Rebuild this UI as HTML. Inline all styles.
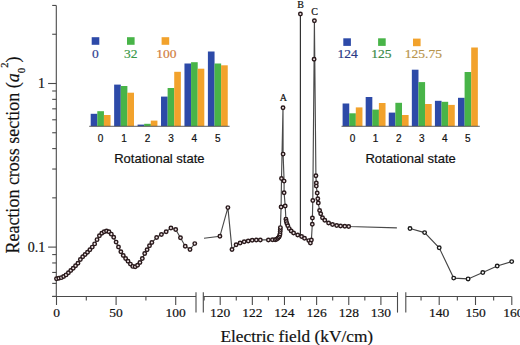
<!DOCTYPE html>
<html><head><meta charset="utf-8"><style>
html,body{margin:0;padding:0;background:#fff;}
svg{display:block;}
.serif{font-family:"Liberation Serif",serif;fill:#111;stroke:#111;stroke-width:0.2px;}
.sans{font-family:"Liberation Sans",sans-serif;fill:#111;stroke:#111;stroke-width:0.2px;}
</style></head><body>
<svg width="520" height="345" viewBox="0 0 520 345">
<rect width="520" height="345" fill="#fff"/>
<line x1="56.3" y1="5.4" x2="56.3" y2="296.5" stroke="#4a4a4a" stroke-width="1.1"/>
<line x1="52.20" y1="296.35" x2="56.3" y2="296.35" stroke="#4a4a4a" stroke-width="1.1"/>
<line x1="52.20" y1="283.39" x2="56.3" y2="283.39" stroke="#4a4a4a" stroke-width="1.1"/>
<line x1="52.20" y1="272.44" x2="56.3" y2="272.44" stroke="#4a4a4a" stroke-width="1.1"/>
<line x1="52.20" y1="262.95" x2="56.3" y2="262.95" stroke="#4a4a4a" stroke-width="1.1"/>
<line x1="52.20" y1="254.59" x2="56.3" y2="254.59" stroke="#4a4a4a" stroke-width="1.1"/>
<line x1="48.10" y1="247.10" x2="56.3" y2="247.10" stroke="#4a4a4a" stroke-width="1.1"/>
<line x1="52.20" y1="197.85" x2="56.3" y2="197.85" stroke="#4a4a4a" stroke-width="1.1"/>
<line x1="52.20" y1="169.04" x2="56.3" y2="169.04" stroke="#4a4a4a" stroke-width="1.1"/>
<line x1="52.20" y1="148.60" x2="56.3" y2="148.60" stroke="#4a4a4a" stroke-width="1.1"/>
<line x1="52.20" y1="132.75" x2="56.3" y2="132.75" stroke="#4a4a4a" stroke-width="1.1"/>
<line x1="52.20" y1="119.79" x2="56.3" y2="119.79" stroke="#4a4a4a" stroke-width="1.1"/>
<line x1="52.20" y1="108.84" x2="56.3" y2="108.84" stroke="#4a4a4a" stroke-width="1.1"/>
<line x1="52.20" y1="99.35" x2="56.3" y2="99.35" stroke="#4a4a4a" stroke-width="1.1"/>
<line x1="52.20" y1="90.99" x2="56.3" y2="90.99" stroke="#4a4a4a" stroke-width="1.1"/>
<line x1="48.10" y1="83.50" x2="56.3" y2="83.50" stroke="#4a4a4a" stroke-width="1.1"/>
<line x1="52.20" y1="34.25" x2="56.3" y2="34.25" stroke="#4a4a4a" stroke-width="1.1"/>
<line x1="52.20" y1="5.44" x2="56.3" y2="5.44" stroke="#4a4a4a" stroke-width="1.1"/>
<line x1="52.2" y1="296.5" x2="196.0" y2="296.5" stroke="#4a4a4a" stroke-width="1.1"/>
<line x1="203.3" y1="296.5" x2="397.5" y2="296.5" stroke="#4a4a4a" stroke-width="1.1"/>
<line x1="405.8" y1="296.5" x2="511.6" y2="296.5" stroke="#4a4a4a" stroke-width="1.1"/>
<line x1="196.0" y1="292.2" x2="196.0" y2="312.6" stroke="#4a4a4a" stroke-width="1.1"/>
<line x1="203.3" y1="292.2" x2="203.3" y2="312.6" stroke="#4a4a4a" stroke-width="1.1"/>
<line x1="397.5" y1="292.2" x2="397.5" y2="312.6" stroke="#4a4a4a" stroke-width="1.1"/>
<line x1="405.8" y1="292.2" x2="405.8" y2="312.6" stroke="#4a4a4a" stroke-width="1.1"/>
<line x1="56.50" y1="296.5" x2="56.50" y2="305.00" stroke="#4a4a4a" stroke-width="1.1"/>
<line x1="116.10" y1="296.5" x2="116.10" y2="305.00" stroke="#4a4a4a" stroke-width="1.1"/>
<line x1="175.70" y1="296.5" x2="175.70" y2="305.00" stroke="#4a4a4a" stroke-width="1.1"/>
<line x1="86.30" y1="296.5" x2="86.30" y2="300.60" stroke="#4a4a4a" stroke-width="1.1"/>
<line x1="145.90" y1="296.5" x2="145.90" y2="300.60" stroke="#4a4a4a" stroke-width="1.1"/>
<line x1="220.20" y1="296.5" x2="220.20" y2="305.00" stroke="#4a4a4a" stroke-width="1.1"/>
<line x1="252.34" y1="296.5" x2="252.34" y2="305.00" stroke="#4a4a4a" stroke-width="1.1"/>
<line x1="284.48" y1="296.5" x2="284.48" y2="305.00" stroke="#4a4a4a" stroke-width="1.1"/>
<line x1="316.62" y1="296.5" x2="316.62" y2="305.00" stroke="#4a4a4a" stroke-width="1.1"/>
<line x1="348.76" y1="296.5" x2="348.76" y2="305.00" stroke="#4a4a4a" stroke-width="1.1"/>
<line x1="380.90" y1="296.5" x2="380.90" y2="305.00" stroke="#4a4a4a" stroke-width="1.1"/>
<line x1="204.13" y1="296.5" x2="204.13" y2="300.60" stroke="#4a4a4a" stroke-width="1.1"/>
<line x1="236.27" y1="296.5" x2="236.27" y2="300.60" stroke="#4a4a4a" stroke-width="1.1"/>
<line x1="268.41" y1="296.5" x2="268.41" y2="300.60" stroke="#4a4a4a" stroke-width="1.1"/>
<line x1="300.55" y1="296.5" x2="300.55" y2="300.60" stroke="#4a4a4a" stroke-width="1.1"/>
<line x1="332.69" y1="296.5" x2="332.69" y2="300.60" stroke="#4a4a4a" stroke-width="1.1"/>
<line x1="364.83" y1="296.5" x2="364.83" y2="300.60" stroke="#4a4a4a" stroke-width="1.1"/>
<line x1="439.20" y1="296.5" x2="439.20" y2="305.00" stroke="#4a4a4a" stroke-width="1.1"/>
<line x1="475.50" y1="296.5" x2="475.50" y2="305.00" stroke="#4a4a4a" stroke-width="1.1"/>
<line x1="511.80" y1="296.5" x2="511.80" y2="305.00" stroke="#4a4a4a" stroke-width="1.1"/>
<line x1="421.05" y1="296.5" x2="421.05" y2="300.60" stroke="#4a4a4a" stroke-width="1.1"/>
<line x1="457.35" y1="296.5" x2="457.35" y2="300.60" stroke="#4a4a4a" stroke-width="1.1"/>
<line x1="493.65" y1="296.5" x2="493.65" y2="300.60" stroke="#4a4a4a" stroke-width="1.1"/>
<text x="56.50" y="317.2" class="serif" font-size="13.5" text-anchor="middle">0</text>
<text x="116.10" y="317.2" class="serif" font-size="13.5" text-anchor="middle">50</text>
<text x="175.70" y="317.2" class="serif" font-size="13.5" text-anchor="middle">100</text>
<text x="220.20" y="317.2" class="serif" font-size="13.5" text-anchor="middle">120</text>
<text x="252.34" y="317.2" class="serif" font-size="13.5" text-anchor="middle">122</text>
<text x="284.48" y="317.2" class="serif" font-size="13.5" text-anchor="middle">124</text>
<text x="316.62" y="317.2" class="serif" font-size="13.5" text-anchor="middle">126</text>
<text x="348.76" y="317.2" class="serif" font-size="13.5" text-anchor="middle">128</text>
<text x="380.90" y="317.2" class="serif" font-size="13.5" text-anchor="middle">130</text>
<text x="439.20" y="317.2" class="serif" font-size="13.5" text-anchor="middle">140</text>
<text x="475.50" y="317.2" class="serif" font-size="13.5" text-anchor="middle">150</text>
<text x="513.30" y="317.2" class="serif" font-size="13.5" text-anchor="middle">160</text>
<text x="45.0" y="87.7" class="serif" font-size="14" text-anchor="end">1</text>
<text x="45.3" y="251.5" class="serif" font-size="14" text-anchor="end">0.1</text>
<text x="296.8" y="341.7" class="serif" font-size="17.3" text-anchor="middle">Electric field (kV/cm)</text>
<text transform="translate(19.2,253.6) rotate(-90)" class="serif" font-size="18">Reaction cross section (<tspan font-style="italic">a</tspan><tspan font-size="11" dy="5.8">0</tspan><tspan font-size="10.5" dy="-17.3">2</tspan><tspan dy="11.5">)</tspan></text>
<rect x="90.70" y="113.80" width="6.65" height="12.50" fill="#2d4aa8"/>
<rect x="97.30" y="111.20" width="6.65" height="15.10" fill="#48b448"/>
<rect x="103.90" y="115.00" width="6.65" height="11.30" fill="#f2a22c"/>
<rect x="114.14" y="84.60" width="6.65" height="41.70" fill="#2d4aa8"/>
<rect x="120.74" y="86.00" width="6.65" height="40.30" fill="#48b448"/>
<rect x="127.34" y="92.70" width="6.65" height="33.60" fill="#f2a22c"/>
<rect x="137.58" y="124.60" width="6.65" height="1.70" fill="#2d4aa8"/>
<rect x="144.18" y="123.80" width="6.65" height="2.50" fill="#48b448"/>
<rect x="150.78" y="120.60" width="6.65" height="5.70" fill="#f2a22c"/>
<rect x="161.02" y="96.60" width="6.65" height="29.70" fill="#2d4aa8"/>
<rect x="167.62" y="88.00" width="6.65" height="38.30" fill="#48b448"/>
<rect x="174.22" y="71.80" width="6.65" height="54.50" fill="#f2a22c"/>
<rect x="184.46" y="63.50" width="6.65" height="62.80" fill="#2d4aa8"/>
<rect x="191.06" y="62.20" width="6.65" height="64.10" fill="#48b448"/>
<rect x="197.66" y="68.70" width="6.65" height="57.60" fill="#f2a22c"/>
<rect x="207.90" y="51.50" width="6.65" height="74.80" fill="#2d4aa8"/>
<rect x="214.50" y="63.50" width="6.65" height="62.80" fill="#48b448"/>
<rect x="221.10" y="65.30" width="6.65" height="61.00" fill="#f2a22c"/>
<line x1="89.2" y1="126.3" x2="229.6" y2="126.3" stroke="#505050" stroke-width="0.9"/>
<text x="100.60" y="141.6" class="sans" font-size="10" text-anchor="middle">0</text>
<text x="124.04" y="141.6" class="sans" font-size="10" text-anchor="middle">1</text>
<text x="147.48" y="141.6" class="sans" font-size="10" text-anchor="middle">2</text>
<text x="170.92" y="141.6" class="sans" font-size="10" text-anchor="middle">3</text>
<text x="194.36" y="141.6" class="sans" font-size="10" text-anchor="middle">4</text>
<text x="217.80" y="141.6" class="sans" font-size="10" text-anchor="middle">5</text>
<text x="159.40" y="163" class="sans" font-size="13" text-anchor="middle">Rotational state</text>
<rect x="91.70" y="37.20" width="7.6" height="7.6" fill="#2d4aa8"/>
<rect x="127.00" y="37.20" width="7.6" height="7.6" fill="#48b448"/>
<rect x="161.60" y="37.20" width="7.6" height="7.6" fill="#f2a22c"/>
<text x="95.40" y="58" class="serif" font-size="13.5" text-anchor="middle" style="fill:#2f4092;stroke:#2f4092">0</text>
<text x="130.80" y="58" class="serif" font-size="13.5" text-anchor="middle" style="fill:#3a9848;stroke:#3a9848">32</text>
<text x="166.30" y="58" class="serif" font-size="13.5" text-anchor="middle" style="fill:#d27e40;stroke:#d27e40">100</text>
<rect x="342.60" y="103.50" width="6.65" height="22.80" fill="#2d4aa8"/>
<rect x="349.20" y="113.30" width="6.65" height="13.00" fill="#48b448"/>
<rect x="355.80" y="107.40" width="6.65" height="18.90" fill="#f2a22c"/>
<rect x="365.68" y="97.00" width="6.65" height="29.30" fill="#2d4aa8"/>
<rect x="372.28" y="109.60" width="6.65" height="16.70" fill="#48b448"/>
<rect x="378.88" y="103.00" width="6.65" height="23.30" fill="#f2a22c"/>
<rect x="388.76" y="112.60" width="6.65" height="13.70" fill="#2d4aa8"/>
<rect x="395.36" y="102.80" width="6.65" height="23.50" fill="#48b448"/>
<rect x="401.96" y="115.00" width="6.65" height="11.30" fill="#f2a22c"/>
<rect x="411.84" y="69.70" width="6.65" height="56.60" fill="#2d4aa8"/>
<rect x="418.44" y="82.10" width="6.65" height="44.20" fill="#48b448"/>
<rect x="425.04" y="104.00" width="6.65" height="22.30" fill="#f2a22c"/>
<rect x="434.92" y="100.80" width="6.65" height="25.50" fill="#2d4aa8"/>
<rect x="441.52" y="101.80" width="6.65" height="24.50" fill="#48b448"/>
<rect x="448.12" y="104.90" width="6.65" height="21.40" fill="#f2a22c"/>
<rect x="458.00" y="97.80" width="6.65" height="28.50" fill="#2d4aa8"/>
<rect x="464.60" y="72.00" width="6.65" height="54.30" fill="#48b448"/>
<rect x="471.20" y="47.50" width="6.65" height="78.80" fill="#f2a22c"/>
<line x1="341.5" y1="126.3" x2="479.8" y2="126.3" stroke="#505050" stroke-width="0.9"/>
<text x="352.50" y="141.6" class="sans" font-size="10" text-anchor="middle">0</text>
<text x="375.58" y="141.6" class="sans" font-size="10" text-anchor="middle">1</text>
<text x="398.66" y="141.6" class="sans" font-size="10" text-anchor="middle">2</text>
<text x="421.74" y="141.6" class="sans" font-size="10" text-anchor="middle">3</text>
<text x="444.82" y="141.6" class="sans" font-size="10" text-anchor="middle">4</text>
<text x="467.90" y="141.6" class="sans" font-size="10" text-anchor="middle">5</text>
<text x="410.65" y="163" class="sans" font-size="13" text-anchor="middle">Rotational state</text>
<rect x="343.30" y="38.30" width="7.6" height="7.6" fill="#2d4aa8"/>
<rect x="378.10" y="38.30" width="7.6" height="7.6" fill="#48b448"/>
<rect x="413.00" y="38.60" width="7.6" height="7.6" fill="#f2a22c"/>
<text x="347.50" y="58" class="serif" font-size="13.5" text-anchor="middle" style="fill:#2a3a85;stroke:#2a3a85">124</text>
<text x="381.30" y="58" class="serif" font-size="13.5" text-anchor="middle" style="fill:#3a8a48;stroke:#3a8a48">125</text>
<text x="423.40" y="58" class="serif" font-size="13.5" text-anchor="middle" style="fill:#b8944c;stroke:#b8944c">125.75</text>
<polyline points="56.50,278.67 58.88,278.30 61.27,277.64 63.65,276.53 66.04,274.88 68.42,272.78 70.80,270.50 73.19,268.21 75.57,265.73 77.96,263.23 80.34,259.56 82.72,256.83 85.11,254.41 87.49,252.18 89.88,249.82 92.26,247.10 94.64,243.88 97.03,239.64 99.41,235.76 101.80,233.29 104.18,231.79 106.56,231.09 108.95,231.69 111.33,234.14 113.72,237.33 116.10,242.12 118.48,247.07 120.87,251.70 123.25,255.40 125.64,258.41 128.02,261.34 130.40,264.10 132.79,266.39 135.17,266.74 137.56,265.20 139.94,262.46 142.32,258.43 144.71,253.50 147.09,249.65 149.48,245.80 151.86,242.55 156.63,237.53 161.40,234.54 166.16,231.65 170.93,228.05 175.70,229.45 180.47,237.67 185.24,246.22 190.00,249.49 194.77,243.60" fill="none" stroke="#4a4a4a" stroke-width="1.15"/>
<circle cx="56.50" cy="278.67" r="1.75" fill="#efe4e6" stroke="#2a1a1c" stroke-width="1.45"/>
<circle cx="58.88" cy="278.30" r="1.75" fill="#efe4e6" stroke="#2a1a1c" stroke-width="1.45"/>
<circle cx="61.27" cy="277.64" r="1.75" fill="#efe4e6" stroke="#2a1a1c" stroke-width="1.45"/>
<circle cx="63.65" cy="276.53" r="1.75" fill="#efe4e6" stroke="#2a1a1c" stroke-width="1.45"/>
<circle cx="66.04" cy="274.88" r="1.75" fill="#efe4e6" stroke="#2a1a1c" stroke-width="1.45"/>
<circle cx="68.42" cy="272.78" r="1.75" fill="#efe4e6" stroke="#2a1a1c" stroke-width="1.45"/>
<circle cx="70.80" cy="270.50" r="1.75" fill="#efe4e6" stroke="#2a1a1c" stroke-width="1.45"/>
<circle cx="73.19" cy="268.21" r="1.75" fill="#efe4e6" stroke="#2a1a1c" stroke-width="1.45"/>
<circle cx="75.57" cy="265.73" r="1.75" fill="#efe4e6" stroke="#2a1a1c" stroke-width="1.45"/>
<circle cx="77.96" cy="263.23" r="1.75" fill="#efe4e6" stroke="#2a1a1c" stroke-width="1.45"/>
<circle cx="80.34" cy="259.56" r="1.75" fill="#efe4e6" stroke="#2a1a1c" stroke-width="1.45"/>
<circle cx="82.72" cy="256.83" r="1.75" fill="#efe4e6" stroke="#2a1a1c" stroke-width="1.45"/>
<circle cx="85.11" cy="254.41" r="1.75" fill="#efe4e6" stroke="#2a1a1c" stroke-width="1.45"/>
<circle cx="87.49" cy="252.18" r="1.75" fill="#efe4e6" stroke="#2a1a1c" stroke-width="1.45"/>
<circle cx="89.88" cy="249.82" r="1.75" fill="#efe4e6" stroke="#2a1a1c" stroke-width="1.45"/>
<circle cx="92.26" cy="247.10" r="1.75" fill="#efe4e6" stroke="#2a1a1c" stroke-width="1.45"/>
<circle cx="94.64" cy="243.88" r="1.75" fill="#efe4e6" stroke="#2a1a1c" stroke-width="1.45"/>
<circle cx="97.03" cy="239.64" r="1.75" fill="#efe4e6" stroke="#2a1a1c" stroke-width="1.45"/>
<circle cx="99.41" cy="235.76" r="1.75" fill="#efe4e6" stroke="#2a1a1c" stroke-width="1.45"/>
<circle cx="101.80" cy="233.29" r="1.75" fill="#efe4e6" stroke="#2a1a1c" stroke-width="1.45"/>
<circle cx="104.18" cy="231.79" r="1.75" fill="#efe4e6" stroke="#2a1a1c" stroke-width="1.45"/>
<circle cx="106.56" cy="231.09" r="1.75" fill="#efe4e6" stroke="#2a1a1c" stroke-width="1.45"/>
<circle cx="108.95" cy="231.69" r="1.75" fill="#efe4e6" stroke="#2a1a1c" stroke-width="1.45"/>
<circle cx="111.33" cy="234.14" r="1.75" fill="#efe4e6" stroke="#2a1a1c" stroke-width="1.45"/>
<circle cx="113.72" cy="237.33" r="1.75" fill="#efe4e6" stroke="#2a1a1c" stroke-width="1.45"/>
<circle cx="116.10" cy="242.12" r="1.75" fill="#efe4e6" stroke="#2a1a1c" stroke-width="1.45"/>
<circle cx="118.48" cy="247.07" r="1.75" fill="#efe4e6" stroke="#2a1a1c" stroke-width="1.45"/>
<circle cx="120.87" cy="251.70" r="1.75" fill="#efe4e6" stroke="#2a1a1c" stroke-width="1.45"/>
<circle cx="123.25" cy="255.40" r="1.75" fill="#efe4e6" stroke="#2a1a1c" stroke-width="1.45"/>
<circle cx="125.64" cy="258.41" r="1.75" fill="#efe4e6" stroke="#2a1a1c" stroke-width="1.45"/>
<circle cx="128.02" cy="261.34" r="1.75" fill="#efe4e6" stroke="#2a1a1c" stroke-width="1.45"/>
<circle cx="130.40" cy="264.10" r="1.75" fill="#efe4e6" stroke="#2a1a1c" stroke-width="1.45"/>
<circle cx="132.79" cy="266.39" r="1.75" fill="#efe4e6" stroke="#2a1a1c" stroke-width="1.45"/>
<circle cx="135.17" cy="266.74" r="1.75" fill="#efe4e6" stroke="#2a1a1c" stroke-width="1.45"/>
<circle cx="137.56" cy="265.20" r="1.75" fill="#efe4e6" stroke="#2a1a1c" stroke-width="1.45"/>
<circle cx="139.94" cy="262.46" r="1.75" fill="#efe4e6" stroke="#2a1a1c" stroke-width="1.45"/>
<circle cx="142.32" cy="258.43" r="1.75" fill="#efe4e6" stroke="#2a1a1c" stroke-width="1.45"/>
<circle cx="144.71" cy="253.50" r="1.75" fill="#efe4e6" stroke="#2a1a1c" stroke-width="1.45"/>
<circle cx="147.09" cy="249.65" r="1.75" fill="#efe4e6" stroke="#2a1a1c" stroke-width="1.45"/>
<circle cx="149.48" cy="245.80" r="1.75" fill="#efe4e6" stroke="#2a1a1c" stroke-width="1.45"/>
<circle cx="151.86" cy="242.55" r="1.75" fill="#efe4e6" stroke="#2a1a1c" stroke-width="1.45"/>
<circle cx="156.63" cy="237.53" r="1.75" fill="#efe4e6" stroke="#2a1a1c" stroke-width="1.45"/>
<circle cx="161.40" cy="234.54" r="1.75" fill="#efe4e6" stroke="#2a1a1c" stroke-width="1.45"/>
<circle cx="166.16" cy="231.65" r="1.75" fill="#efe4e6" stroke="#2a1a1c" stroke-width="1.45"/>
<circle cx="170.93" cy="228.05" r="1.75" fill="#efe4e6" stroke="#2a1a1c" stroke-width="1.45"/>
<circle cx="175.70" cy="229.45" r="1.75" fill="#efe4e6" stroke="#2a1a1c" stroke-width="1.45"/>
<circle cx="180.47" cy="237.67" r="1.75" fill="#efe4e6" stroke="#2a1a1c" stroke-width="1.45"/>
<circle cx="185.24" cy="246.22" r="1.75" fill="#efe4e6" stroke="#2a1a1c" stroke-width="1.45"/>
<circle cx="190.00" cy="249.49" r="1.75" fill="#efe4e6" stroke="#2a1a1c" stroke-width="1.45"/>
<circle cx="194.77" cy="243.60" r="1.75" fill="#efe4e6" stroke="#2a1a1c" stroke-width="1.45"/>
<polyline points="204.00,238.20 219.90,236.30 227.90,207.60 232.00,249.50 236.10,244.80 240.10,242.90 244.20,241.70 248.20,240.90 252.20,240.30 256.30,239.90 260.30,239.90 268.40,239.90 272.50,239.70 275.20,239.70 276.60,239.30 277.90,238.30 279.00,237.00 279.70,235.60 280.00,233.90 280.20,231.60 280.30,229.60 280.40,227.60 281.10,207.00 281.50,178.50 283.00,107.80 283.10,154.10 284.10,181.10 284.10,192.70 285.20,205.90 285.90,219.20 286.30,221.40 286.90,223.60 287.80,225.80 289.20,228.60 291.20,231.00 293.60,232.90 297.70,235.00 300.40,235.70 301.60,236.50 304.50,238.30 308.80,240.60 310.40,242.90 311.40,239.90 312.30,224.20 312.40,218.00 312.80,200.40 314.10,59.30 314.40,20.70 315.90,175.70 316.30,183.00 316.30,186.10 317.20,193.00 317.80,198.70 318.30,203.00 319.60,210.50 320.70,213.70 322.50,217.70 324.80,220.20 328.60,222.90 332.50,224.40 336.70,225.50 340.60,226.00 344.80,226.30 348.70,226.50 396.90,227.90" fill="none" stroke="#4a4a4a" stroke-width="1.15"/>
<line x1="300.4" y1="235.7" x2="300.4" y2="13.9" stroke="#333" stroke-width="1.2"/>
<circle cx="219.90" cy="236.30" r="1.75" fill="#efe4e6" stroke="#2a1a1c" stroke-width="1.45"/>
<circle cx="227.90" cy="207.60" r="1.75" fill="#efe4e6" stroke="#2a1a1c" stroke-width="1.45"/>
<circle cx="232.00" cy="249.50" r="1.75" fill="#efe4e6" stroke="#2a1a1c" stroke-width="1.45"/>
<circle cx="236.10" cy="244.80" r="1.75" fill="#efe4e6" stroke="#2a1a1c" stroke-width="1.45"/>
<circle cx="240.10" cy="242.90" r="1.75" fill="#efe4e6" stroke="#2a1a1c" stroke-width="1.45"/>
<circle cx="244.20" cy="241.70" r="1.75" fill="#efe4e6" stroke="#2a1a1c" stroke-width="1.45"/>
<circle cx="248.20" cy="240.90" r="1.75" fill="#efe4e6" stroke="#2a1a1c" stroke-width="1.45"/>
<circle cx="252.20" cy="240.30" r="1.75" fill="#efe4e6" stroke="#2a1a1c" stroke-width="1.45"/>
<circle cx="256.30" cy="239.90" r="1.75" fill="#efe4e6" stroke="#2a1a1c" stroke-width="1.45"/>
<circle cx="260.30" cy="239.90" r="1.75" fill="#efe4e6" stroke="#2a1a1c" stroke-width="1.45"/>
<circle cx="268.40" cy="239.90" r="1.75" fill="#efe4e6" stroke="#2a1a1c" stroke-width="1.45"/>
<circle cx="272.50" cy="239.70" r="1.75" fill="#efe4e6" stroke="#2a1a1c" stroke-width="1.45"/>
<circle cx="275.20" cy="239.70" r="1.75" fill="#efe4e6" stroke="#2a1a1c" stroke-width="1.45"/>
<circle cx="276.60" cy="239.30" r="1.75" fill="#efe4e6" stroke="#2a1a1c" stroke-width="1.45"/>
<circle cx="277.90" cy="238.30" r="1.75" fill="#efe4e6" stroke="#2a1a1c" stroke-width="1.45"/>
<circle cx="279.00" cy="237.00" r="1.75" fill="#efe4e6" stroke="#2a1a1c" stroke-width="1.45"/>
<circle cx="279.70" cy="235.60" r="1.75" fill="#efe4e6" stroke="#2a1a1c" stroke-width="1.45"/>
<circle cx="280.00" cy="233.90" r="1.75" fill="#efe4e6" stroke="#2a1a1c" stroke-width="1.45"/>
<circle cx="280.20" cy="231.60" r="1.75" fill="#efe4e6" stroke="#2a1a1c" stroke-width="1.45"/>
<circle cx="280.30" cy="229.60" r="1.75" fill="#efe4e6" stroke="#2a1a1c" stroke-width="1.45"/>
<circle cx="280.40" cy="227.60" r="1.75" fill="#efe4e6" stroke="#2a1a1c" stroke-width="1.45"/>
<circle cx="281.10" cy="207.00" r="1.75" fill="#efe4e6" stroke="#2a1a1c" stroke-width="1.45"/>
<circle cx="281.50" cy="178.50" r="1.75" fill="#efe4e6" stroke="#2a1a1c" stroke-width="1.45"/>
<circle cx="283.00" cy="107.80" r="1.75" fill="#efe4e6" stroke="#2a1a1c" stroke-width="1.45"/>
<circle cx="283.10" cy="154.10" r="1.75" fill="#efe4e6" stroke="#2a1a1c" stroke-width="1.45"/>
<circle cx="284.10" cy="181.10" r="1.75" fill="#efe4e6" stroke="#2a1a1c" stroke-width="1.45"/>
<circle cx="284.10" cy="192.70" r="1.75" fill="#efe4e6" stroke="#2a1a1c" stroke-width="1.45"/>
<circle cx="285.20" cy="205.90" r="1.75" fill="#efe4e6" stroke="#2a1a1c" stroke-width="1.45"/>
<circle cx="285.90" cy="219.20" r="1.75" fill="#efe4e6" stroke="#2a1a1c" stroke-width="1.45"/>
<circle cx="286.30" cy="221.40" r="1.75" fill="#efe4e6" stroke="#2a1a1c" stroke-width="1.45"/>
<circle cx="286.90" cy="223.60" r="1.75" fill="#efe4e6" stroke="#2a1a1c" stroke-width="1.45"/>
<circle cx="287.80" cy="225.80" r="1.75" fill="#efe4e6" stroke="#2a1a1c" stroke-width="1.45"/>
<circle cx="289.20" cy="228.60" r="1.75" fill="#efe4e6" stroke="#2a1a1c" stroke-width="1.45"/>
<circle cx="291.20" cy="231.00" r="1.75" fill="#efe4e6" stroke="#2a1a1c" stroke-width="1.45"/>
<circle cx="293.60" cy="232.90" r="1.75" fill="#efe4e6" stroke="#2a1a1c" stroke-width="1.45"/>
<circle cx="297.70" cy="235.00" r="1.75" fill="#efe4e6" stroke="#2a1a1c" stroke-width="1.45"/>
<circle cx="301.60" cy="236.50" r="1.75" fill="#efe4e6" stroke="#2a1a1c" stroke-width="1.45"/>
<circle cx="304.50" cy="238.30" r="1.75" fill="#efe4e6" stroke="#2a1a1c" stroke-width="1.45"/>
<circle cx="308.80" cy="240.60" r="1.75" fill="#efe4e6" stroke="#2a1a1c" stroke-width="1.45"/>
<circle cx="310.40" cy="242.90" r="1.75" fill="#efe4e6" stroke="#2a1a1c" stroke-width="1.45"/>
<circle cx="311.40" cy="239.90" r="1.75" fill="#efe4e6" stroke="#2a1a1c" stroke-width="1.45"/>
<circle cx="312.30" cy="224.20" r="1.75" fill="#efe4e6" stroke="#2a1a1c" stroke-width="1.45"/>
<circle cx="312.40" cy="218.00" r="1.75" fill="#efe4e6" stroke="#2a1a1c" stroke-width="1.45"/>
<circle cx="312.80" cy="200.40" r="1.75" fill="#efe4e6" stroke="#2a1a1c" stroke-width="1.45"/>
<circle cx="314.10" cy="59.30" r="1.75" fill="#efe4e6" stroke="#2a1a1c" stroke-width="1.45"/>
<circle cx="314.40" cy="20.70" r="1.75" fill="#efe4e6" stroke="#2a1a1c" stroke-width="1.45"/>
<circle cx="315.90" cy="175.70" r="1.75" fill="#efe4e6" stroke="#2a1a1c" stroke-width="1.45"/>
<circle cx="316.30" cy="183.00" r="1.75" fill="#efe4e6" stroke="#2a1a1c" stroke-width="1.45"/>
<circle cx="316.30" cy="186.10" r="1.75" fill="#efe4e6" stroke="#2a1a1c" stroke-width="1.45"/>
<circle cx="317.20" cy="193.00" r="1.75" fill="#efe4e6" stroke="#2a1a1c" stroke-width="1.45"/>
<circle cx="317.80" cy="198.70" r="1.75" fill="#efe4e6" stroke="#2a1a1c" stroke-width="1.45"/>
<circle cx="318.30" cy="203.00" r="1.75" fill="#efe4e6" stroke="#2a1a1c" stroke-width="1.45"/>
<circle cx="319.60" cy="210.50" r="1.75" fill="#efe4e6" stroke="#2a1a1c" stroke-width="1.45"/>
<circle cx="320.70" cy="213.70" r="1.75" fill="#efe4e6" stroke="#2a1a1c" stroke-width="1.45"/>
<circle cx="322.50" cy="217.70" r="1.75" fill="#efe4e6" stroke="#2a1a1c" stroke-width="1.45"/>
<circle cx="324.80" cy="220.20" r="1.75" fill="#efe4e6" stroke="#2a1a1c" stroke-width="1.45"/>
<circle cx="328.60" cy="222.90" r="1.75" fill="#efe4e6" stroke="#2a1a1c" stroke-width="1.45"/>
<circle cx="332.50" cy="224.40" r="1.75" fill="#efe4e6" stroke="#2a1a1c" stroke-width="1.45"/>
<circle cx="336.70" cy="225.50" r="1.75" fill="#efe4e6" stroke="#2a1a1c" stroke-width="1.45"/>
<circle cx="340.60" cy="226.00" r="1.75" fill="#efe4e6" stroke="#2a1a1c" stroke-width="1.45"/>
<circle cx="344.80" cy="226.30" r="1.75" fill="#efe4e6" stroke="#2a1a1c" stroke-width="1.45"/>
<circle cx="348.70" cy="226.50" r="1.75" fill="#efe4e6" stroke="#2a1a1c" stroke-width="1.45"/>
<circle cx="300.40" cy="13.90" r="1.75" fill="#efe4e6" stroke="#2a1a1c" stroke-width="1.45"/>
<text x="283.3" y="100.8" class="serif" font-size="10" text-anchor="middle">A</text>
<text x="300.5" y="7.6" class="serif" font-size="10" text-anchor="middle">B</text>
<text x="314.5" y="15.2" class="serif" font-size="10" text-anchor="middle">C</text>
<polyline points="410.00,228.50 424.60,232.60 439.20,247.80 453.70,278.10 468.10,278.90 482.80,272.50 497.20,266.00 511.70,261.60" fill="none" stroke="#444" stroke-width="1.1"/>
<circle cx="410.00" cy="228.50" r="1.8" fill="#ffffff" stroke="#1a1a1a" stroke-width="1.35"/>
<circle cx="424.60" cy="232.60" r="1.8" fill="#ffffff" stroke="#1a1a1a" stroke-width="1.35"/>
<circle cx="439.20" cy="247.80" r="1.8" fill="#ffffff" stroke="#1a1a1a" stroke-width="1.35"/>
<circle cx="453.70" cy="278.10" r="1.8" fill="#ffffff" stroke="#1a1a1a" stroke-width="1.35"/>
<circle cx="468.10" cy="278.90" r="1.8" fill="#ffffff" stroke="#1a1a1a" stroke-width="1.35"/>
<circle cx="482.80" cy="272.50" r="1.8" fill="#ffffff" stroke="#1a1a1a" stroke-width="1.35"/>
<circle cx="497.20" cy="266.00" r="1.8" fill="#ffffff" stroke="#1a1a1a" stroke-width="1.35"/>
<circle cx="511.70" cy="261.60" r="1.8" fill="#ffffff" stroke="#1a1a1a" stroke-width="1.35"/>
</svg></body></html>
